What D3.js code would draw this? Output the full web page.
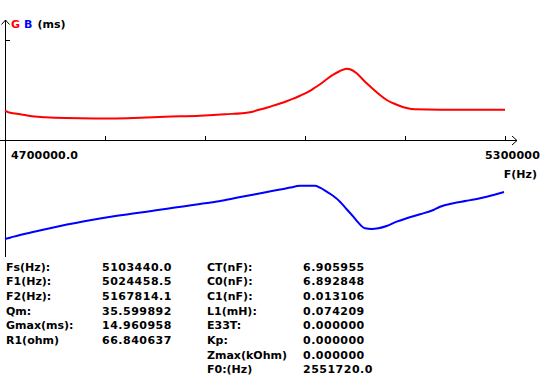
<!DOCTYPE html>
<html><head><meta charset="utf-8">
<script src="https://cdn.jsdelivr.net/npm/d3@7"></script>
<style>
html,body{margin:0;padding:0;background:#fff;}
svg text{font-family:"DejaVu Sans",sans-serif;font-weight:bold;font-size:11px;}
</style></head>
<body>
<svg id="c" width="541" height="389"></svg>
<script>
// Frequencies (Hz) and conductance G (ms)
const freqG = [4700000,4703600,4712000,4724000,4730000,4748000,4772000,4808000,4862000,4892000,4934000,4964000,4994000,5006000,5018000,5030000,5038000,5046000,5054000,5062000,5070000,5078000,5086000,5094000,5102000,5110000,5114000,5122000,5128000,5134000,5142000,5150000,5158000,5166000,5174000,5182000,5192000,5222000,5300000];
const valuesG = [6.15,5.85,5.55,5.25,5.05,4.8,4.6,4.5,4.68,4.89,5.10,5.40,5.85,6.4,7.0,7.65,8.15,8.7,9.30,9.93,10.77,11.70,12.75,13.71,14.49,14.97,14.85,14.01,12.96,11.91,10.65,9.45,8.40,7.71,7.14,6.72,6.45,6.36,6.36];
// Frequencies (Hz) and susceptance B (relative)
const freqB = [4700000,4706000,4718000,4733600,4754000,4774400,4793600,4814000,4834400,4853600,4874000,4894400,4913600,4934000,4954400,4973600,4994000,5014400,5030000,5042000,5054000,5072000,5078000,5086000,5094000,5102000,5110000,5118000,5124000,5132000,5140000,5148000,5158000,5170000,5182000,5198000,5214000,5222000,5238000,5254000,5270000,5286000,5298800];
const valuesB = [2.75,3.08,3.75,4.5,5.43,6.35,7.15,7.9,8.55,9.1,9.7,10.3,10.9,11.5,12.15,12.9,13.7,14.5,15.1,15.6,16.05,16.08,15.58,14.58,13.5,12.08,10.18,8.33,6.83,5.43,5.25,5.43,6.0,7.08,7.93,8.93,10.0,10.8,11.7,12.3,12.95,13.75,14.5];
const xTicks = [4820000,4940000,5060000,5180000,5300000];
const xTickLabels = ["4700000.0","5300000"];
const axisLabels = ["F(Hz)"];
const paramLabels1 = ["Fs(Hz):","F1(Hz):","F2(Hz):","Qm:","Gmax(ms):","R1(ohm)"];
const paramValues1 = ["5103440.0","5024458.5","5167814.1","35.599892","14.960958","66.840637"];
const paramLabels2 = ["CT(nF):","C0(nF):","C1(nF):","L1(mH):","E33T:","Kp:","Zmax(kOhm)","F0:(Hz)"];
const paramValues2 = ["6.905955","6.892848","0.013106","0.074209","0.000000","0.000000","0.000000","2551720.0"];

const svg = d3.select("#c");
const x = d3.scaleLinear().domain([4700000,5300000]).range([5,505]);
const yG = d3.scaleLinear().domain([0,21]).range([140,40]);
const yB = d3.scaleLinear().domain([0,20]).range([250,170]);

// axes
const ax = svg.append("g").attr("stroke","#000").attr("stroke-width",1).attr("fill","none");
ax.append("line").attr("x1",5.5).attr("x2",5.5).attr("y1",20).attr("y2",257);
ax.append("path").attr("d","M1.5,24.5L5.5,20L9.5,24.5");
ax.append("line").attr("x1",5).attr("x2",10).attr("y1",yG(21)+0.5).attr("y2",yG(21)+0.5);
ax.append("line").attr("x1",0).attr("x2",517).attr("y1",140.5).attr("y2",140.5);
ax.append("path").attr("d","M512,136L517,140.5L512,145");
xTicks.forEach(t=>{
  ax.append("line").attr("x1",Math.round(x(t))+0.5).attr("x2",Math.round(x(t))+0.5).attr("y1",136).attr("y2",140);
});

// header
const hdr = svg.append("text").attr("x",11).attr("y",28);
hdr.append("tspan").attr("fill","#ff0000").text("G");
hdr.append("tspan").attr("fill","#0000ff").attr("dx",4).text("B");
hdr.append("tspan").attr("fill","#000").attr("dx",5).text("(ms)");

// tick labels
svg.append("text").attr("x",11).attr("y",159).attr("letter-spacing","0.2px").text(xTickLabels[0]);
svg.append("text").attr("x",540).attr("y",159).attr("text-anchor","end").attr("letter-spacing","0.2px").text(xTickLabels[1]);
svg.append("text").attr("x",537).attr("y",178).attr("text-anchor","end").text(axisLabels[0]);

// curves
const lineG = d3.line().x((d,i)=>x(freqG[i])).y(d=>yG(d)).curve(d3.curveMonotoneX);
const lineB = d3.line().x((d,i)=>x(freqB[i])).y(d=>yB(d)).curve(d3.curveMonotoneX);
svg.append("path").attr("d",lineG(valuesG)).attr("fill","none").attr("stroke","#ff0000").attr("stroke-width",2);
svg.append("path").attr("d",lineB(valuesB)).attr("fill","none").attr("stroke","#0000ff").attr("stroke-width",2);

// parameter table
const rowY = i => 270.5 + i*14.67;
paramLabels1.forEach((t,i)=>svg.append("text").attr("x",6).attr("y",rowY(i)).text(t));
paramValues1.forEach((t,i)=>svg.append("text").attr("x",102).attr("y",rowY(i)).attr("letter-spacing","0.5px").text(t));
paramLabels2.forEach((t,i)=>svg.append("text").attr("x",207).attr("y",rowY(i)).text(t));
paramValues2.forEach((t,i)=>svg.append("text").attr("x",303).attr("y",rowY(i)).attr("letter-spacing","0.5px").text(t));
</script>
</body></html>
